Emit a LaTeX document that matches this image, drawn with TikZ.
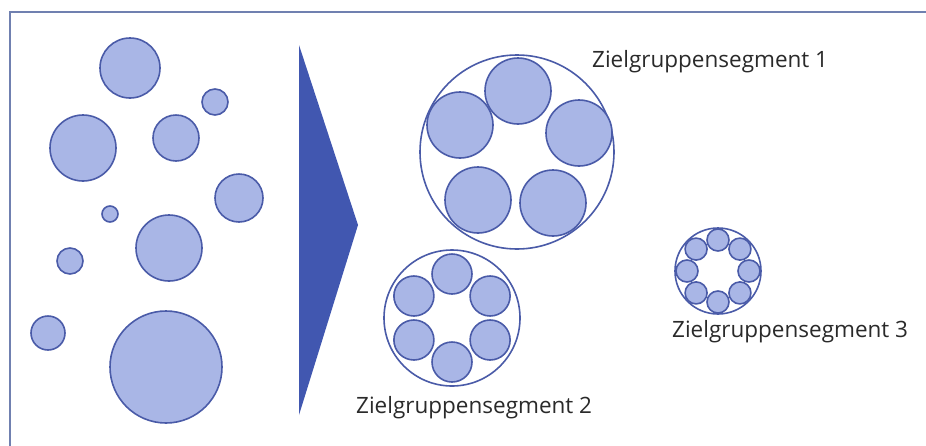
\documentclass[tikz,border=0pt]{standalone}
\usepackage{fontspec}
\setmainfont{Open Sans}
\usetikzlibrary{calc}
\definecolor{cfill}{HTML}{A9B6E6}
\definecolor{cline}{HTML}{4A5BA8}
\definecolor{ctri}{HTML}{4157B0}
\definecolor{cframe}{HTML}{7080B0}
\definecolor{ctext}{HTML}{2A2A2A}
\begin{document}
\begin{tikzpicture}[x=1pt,y=-1pt,
  blob/.style={fill=cfill,draw=cline,line width=1.6pt},
  ring/.style={draw=cline,line width=1.6pt,fill=none},
  lbl/.style={text=ctext,font=\fontsize{22.5}{24}\selectfont,inner sep=0pt,anchor=base west}]
\useasboundingbox (0,0) rectangle (926,445);
\fill[white] (0,0) rectangle (926,445);
\draw[cframe,line width=1.4pt] (10,446) -- (10,12) -- (927,12);
% left circles
\foreach \x/\y/\r in {130/68/30, 215/102/13, 83/148/33, 176/138/23, 239/198/24, 110/214/8, 169/248/33, 70/261/13, 48/333/17, 166/367/56}
  \draw[blob] (\x,\y) circle (\r);
% triangle
\fill[ctri] (299,45) coordinate (t1) -- (358,225) coordinate (t2) -- (299,415) coordinate (t3) -- cycle;
% segment 1
\draw[ring] (517,152) circle (97);
\foreach \x/\y in {518/91, 460/125, 579/133, 478/200, 553/203}
  \draw[blob] (\x,\y) circle (33);
\node[lbl] (s1) at (592,67) {Zielgruppensegment 1};
% segment 2
\draw[ring] (452,318) circle (68);
\foreach \a in {90,150,210,270,330,30}
  \draw[blob] ($(452,318)+(\a:44)$) circle (20);
\node[lbl] (s2) at (356,413) {Zielgruppensegment 2};
% segment 3
\draw[ring] (718,271) circle (43);
\foreach \a in {0,45,...,315}
  \draw[blob] ($(718,271)+(\a:31)$) circle (11);
\node[lbl] (s3) at (672,337) {Zielgruppensegment 3};
\end{tikzpicture}
\end{document}
